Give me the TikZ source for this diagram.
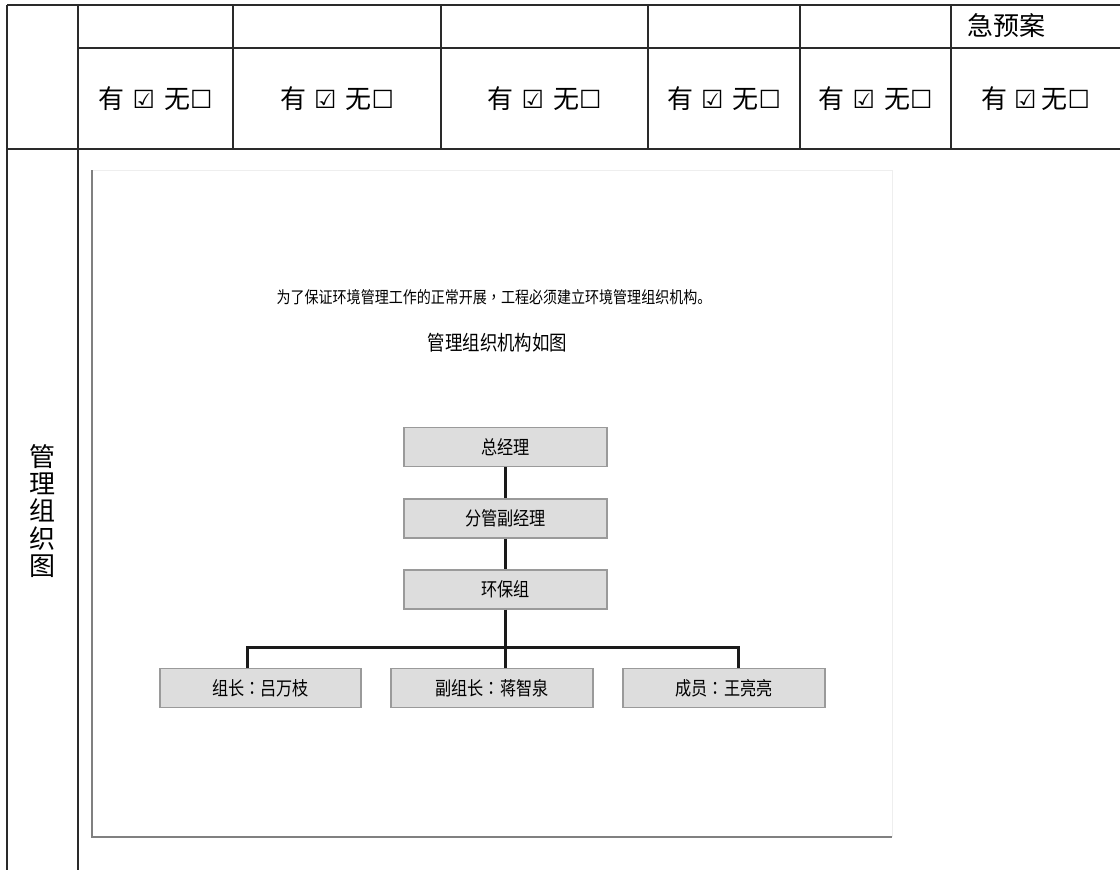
\documentclass[tikz,border=0pt]{standalone}
\usepackage{fontspec}
\setmainfont{Noto Sans CJK SC}
\newfontfamily\tc{Noto Sans CJK TC}
\newfontfamily\dv{DejaVu Sans}
\definecolor{tline}{HTML}{2A2A2A}
\definecolor{boxfill}{HTML}{DDDDDD}
\definecolor{boxdraw}{HTML}{9A9A9A}
\definecolor{conncol}{HTML}{1A1A1A}
\definecolor{faint}{HTML}{EEEEEE}
\definecolor{frame}{HTML}{808080}
\newcommand\ckbox[1]{{\dv\fontsize{25}{25}\selectfont #1}}
\newcommand\youwu[2]{有\hspace{#1}\ckbox{☑}\hspace{#2}无\ckbox{☐}}
\newcommand\cond[1]{\scalebox{0.85}[1]{#1}}
\newcommand\cp{{\tc ：}}
\tikzset{
  tbl/.style={draw=tline, line width=1.5pt},
  cell/.style={inner sep=0pt, font=\fontsize{26}{27}\selectfont},
  orgbox/.style={draw=boxdraw, fill=boxfill, line width=1.2pt, minimum width=202pt, minimum height=39pt, inner sep=0pt, font=\fontsize{19}{19}\selectfont},
  conn/.style={draw=conncol, line width=3pt, line join=miter},
  caption/.style={inner sep=0pt}
}
\begin{document}
\begin{tikzpicture}[x=1pt,y=-1pt]
\useasboundingbox (0,0) rectangle (1120,870);
\fill[white] (0,0) rectangle (1120,870);
% table lines
\draw[tbl] (7,5) -- (1120,5);
\draw[tbl] (78,48) -- (1120,48);
\draw[tbl] (7,149) -- (1120,149);
\draw[tbl] (7,5) -- (7,870);
\draw[tbl] (78,5) -- (78,870);
\foreach \x in {233,441,648,800,951} \draw[tbl] (\x,5) -- (\x,149);
% cells
\node[cell] (c1) at (155.5,99) {\youwu{8pt}{9pt}};
\node[cell] (c2) at (337,99) {\youwu{8pt}{9pt}};
\node[cell] (c3) at (544.5,99) {\youwu{8pt}{9pt}};
\node[cell] (c4) at (724,99) {\youwu{8pt}{9pt}};
\node[cell] (c5) at (875.5,99) {\youwu{8pt}{9pt}};
\node[cell] (c6) at (1035.5,99) {\youwu{7pt}{5pt}};
\node[cell, anchor=west] (jya) at (967,26) {急预案};
\node[cell, align=center, font=\fontsize{26}{27.4}\selectfont] (side) at (42,511) {管\\理\\组\\织\\图};
% embedded picture frame
\fill[white] (92,170) rectangle (892,837);
\draw[faint, line width=1pt] (92,170) -- (892,170) -- (892,837);
\draw[frame, line width=1.2pt] (92,170) -- (92,837) -- (892,837);
% captions
\node[caption, font=\fontsize{16.5}{16.5}\selectfont] (t1) at (494,297) {\cond{为了保证环境管理工作的正常开展{\tc ，}工程必须建立环境管理组织机构。}};
\node[caption, font=\fontsize{20.5}{20.5}\selectfont] (t2) at (497.5,343) {\cond{管理组织机构如图}};
% org chart
\node[orgbox, minimum width=203pt] (zjl) at (505.5,447) {\cond{总经理}};
\node[orgbox, minimum width=203pt] (fg) at (505.5,518.5) {\cond{分管副经理}};
\node[orgbox, minimum width=203pt] (hbz) at (505.5,589.5) {\cond{环保组}};
\node[orgbox, minimum width=201pt] (A) at (260.5,688) {\cond{组长\cp 吕万枝}};
\node[orgbox] (B) at (492,688) {\cond{副组长\cp 蒋智泉}};
\node[orgbox] (C) at (724,688) {\cond{成员\cp 王亮亮}};
\coordinate (bus) at (505.5,647);
\coordinate (busL) at (247,647);
\coordinate (busR) at (738,647);
\draw[conn] (zjl) -- (fg);
\draw[conn] (fg) -- (hbz);
\draw[conn] (hbz.south) -- (bus) -- (bus |- B.north);
\draw[conn] (busL |- A.north) -- (busL) -- (busR) -- (busR |- C.north);
\end{tikzpicture}
\end{document}
